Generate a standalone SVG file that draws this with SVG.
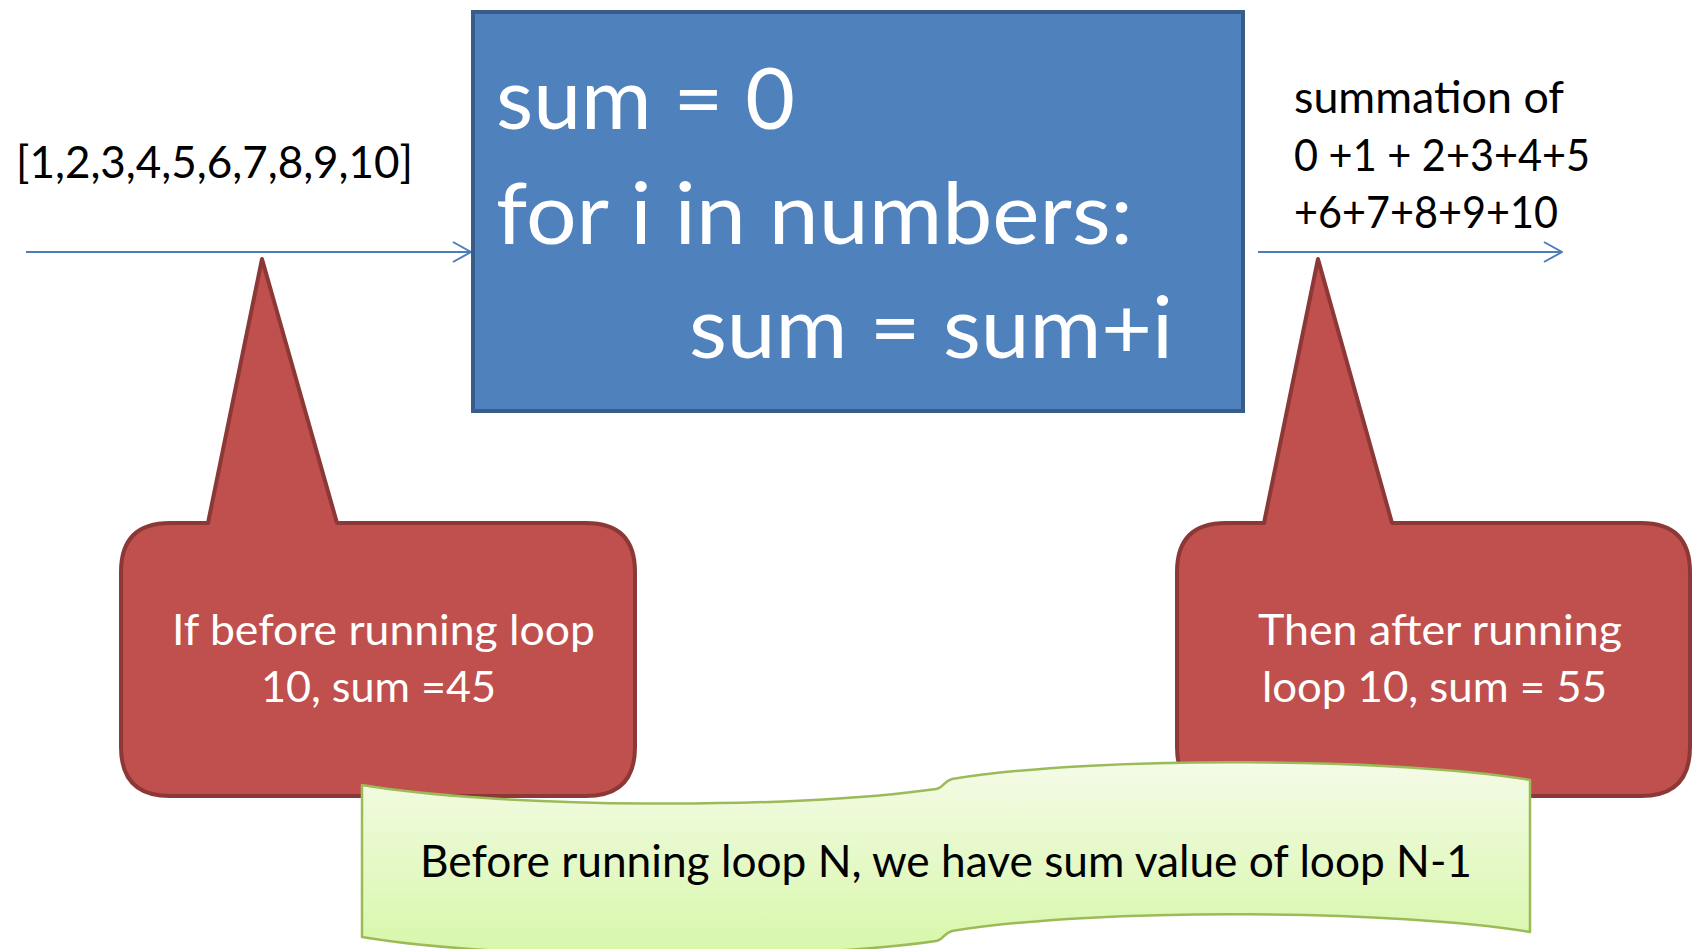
<svg xmlns="http://www.w3.org/2000/svg" width="1693" height="949" viewBox="0 0 1693 949">
  <defs>
    <style>
      .txt { font-family: Lato, "Open Sans", "Liberation Sans", sans-serif; }
      .code { font-size: 86px; fill: #ffffff; }
      .lbl { font-size: 44px; fill: #000000; }
      .call { font-size: 42px; fill: #ffffff; }
      .ban { font-size: 45px; fill: #000000; }
      .flow { stroke: #4A7EBB; stroke-width: 2; fill: none; }
      .bubble { fill: #C0504D; stroke: #8C3836; stroke-width: 4; stroke-linejoin: round; }
    </style>
    <marker id="openArrow" viewBox="0 0 20 22" refX="19" refY="11" markerWidth="20" markerHeight="22" markerUnits="userSpaceOnUse" orient="auto">
      <path d="M1 1 L19 11 L1 21" fill="none" stroke="#4A7EBB" stroke-width="2"/>
    </marker>
    <linearGradient id="bannerFill" x1="0" y1="765" x2="0" y2="950" gradientUnits="userSpaceOnUse">
      <stop offset="0" stop-color="#F4FBE6"/>
      <stop offset="1" stop-color="#D8F7AB"/>
    </linearGradient>
  </defs>

  <!-- connectors -->
  <g id="connectors">
    <line class="flow" x1="26" y1="252" x2="471" y2="252" marker-end="url(#openArrow)"/>
    <line class="flow" x1="1258" y1="252" x2="1562" y2="252" marker-end="url(#openArrow)"/>
  </g>

  <!-- input list -->
  <g id="input-label">
    <text class="txt lbl" x="16" y="178" textLength="397" lengthAdjust="spacingAndGlyphs">[1,2,3,4,5,6,7,8,9,10]</text>
  </g>

  <!-- loop body -->
  <g id="loop-box">
    <rect x="473" y="12" width="770" height="399" fill="#4F81BD" stroke="#385D8A" stroke-width="4"/>
    <text class="txt code" x="496" y="129" textLength="299" lengthAdjust="spacingAndGlyphs">sum = 0</text>
    <text class="txt code" x="496" y="244" textLength="637" lengthAdjust="spacingAndGlyphs">for i in numbers:</text>
    <text class="txt code" x="689" y="358" textLength="484" lengthAdjust="spacingAndGlyphs">sum = sum+i</text>
  </g>

  <!-- result -->
  <g id="output-label">
    <text class="txt lbl" x="1294" y="113" textLength="270" lengthAdjust="spacingAndGlyphs">summation of</text>
    <text class="txt lbl" x="1294" y="171" textLength="296" lengthAdjust="spacingAndGlyphs">0 +1 + 2+3+4+5</text>
    <text class="txt lbl" x="1294" y="228" textLength="264" lengthAdjust="spacingAndGlyphs">+6+7+8+9+10</text>
  </g>

  <!-- callout before loop -->
  <g id="callout-before">
    <path class="bubble" d="M170 523 L208 523 L262 259 L337 523 L586 523 Q635 523 635 572 L635 747 Q635 796 586 796 L170 796 Q121 796 121 747 L121 572 Q121 523 170 523 Z"/>
    <text class="txt call" x="172" y="645" textLength="423" lengthAdjust="spacingAndGlyphs">If before running loop</text>
    <text class="txt call" x="261" y="702" textLength="235" lengthAdjust="spacingAndGlyphs">10, sum =45</text>
  </g>

  <!-- callout after loop -->
  <g id="callout-after">
    <path class="bubble" d="M1226 523 L1264 523 L1318 259 L1392 523 L1641 523 Q1690 523 1690 572 L1690 747 Q1690 796 1641 796 L1226 796 Q1177 796 1177 747 L1177 572 Q1177 523 1226 523 Z"/>
    <text class="txt call" x="1258" y="645" textLength="364" lengthAdjust="spacingAndGlyphs">Then after running</text>
    <text class="txt call" x="1262" y="702" textLength="345" lengthAdjust="spacingAndGlyphs">loop 10, sum = 55</text>
  </g>

  <!-- wave banner -->
  <g id="banner">
    <path d="M362 785 C500 808 790 810 936 789 C943 788 944 781 952 779 C1100 755 1400 758 1530 780 L1530 932 C1400 910 1100 907 952 931 C944 933 943 940 936 941 C790 962 500 960 362 937 Z" fill="url(#bannerFill)" stroke="#9BBB59" stroke-width="2.5" stroke-linejoin="round"/>
    <text class="txt ban" x="420" y="877" textLength="1052" lengthAdjust="spacingAndGlyphs">Before running loop N, we have sum value of loop N-1</text>
  </g>
</svg>
